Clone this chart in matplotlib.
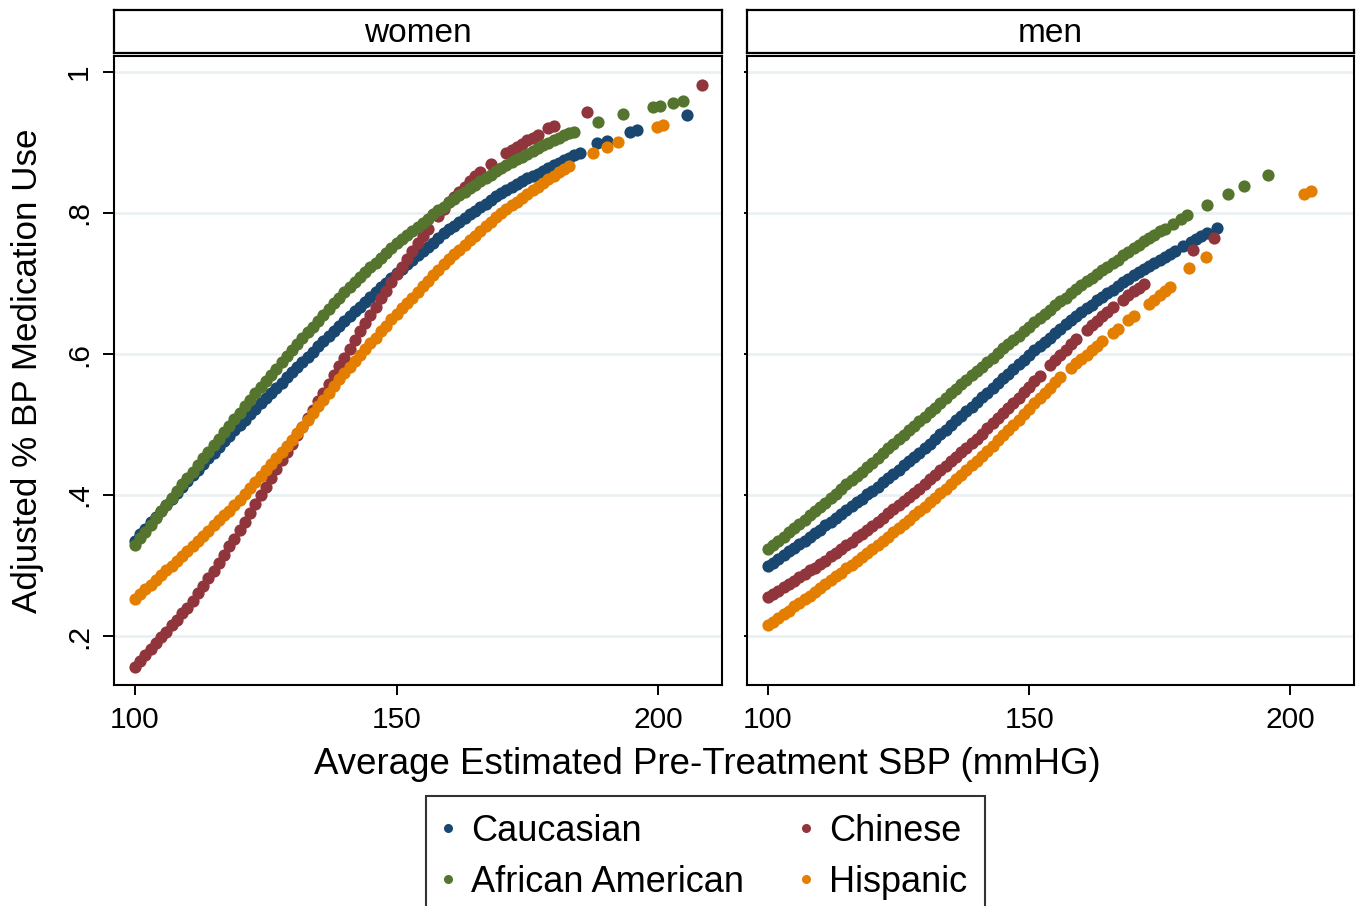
import matplotlib
matplotlib.use('Agg')
import matplotlib.pyplot as plt
from matplotlib.lines import Line2D

plt.rcParams['font.family'] = ['Liberation Sans', 'DejaVu Sans']

groups = ['Caucasian', 'Chinese', 'African American', 'Hispanic']
colors = {'Caucasian': '#1a476f', 'Chinese': '#90353b',
          'African American': '#55752f', 'Hispanic': '#e37e00'}

# ---- women ----
women_cauc_x = list(range(100, 186)) + [188.3, 190.2, 194.6, 195.9, 205.5]
women_cauc_y = [0.335, 0.344, 0.352, 0.361, 0.369, 0.378, 0.386, 0.395, 0.403, 0.412,
                0.420, 0.428, 0.436, 0.444, 0.452, 0.460, 0.468, 0.476, 0.484, 0.492,
                0.500, 0.507, 0.515, 0.522, 0.530, 0.537, 0.544, 0.552, 0.559, 0.567,
                0.574, 0.581, 0.589, 0.596, 0.603, 0.611, 0.618, 0.625, 0.632, 0.640,
                0.647, 0.654, 0.661, 0.667, 0.674, 0.681, 0.688, 0.695, 0.701, 0.708,
                0.715, 0.721, 0.727, 0.734, 0.740, 0.746, 0.752, 0.758, 0.765, 0.771,
                0.777, 0.782, 0.787, 0.793, 0.798, 0.803, 0.808, 0.813, 0.819, 0.824,
                0.829, 0.833, 0.837, 0.841, 0.845, 0.849, 0.852, 0.856, 0.860, 0.864,
                0.868, 0.871, 0.875, 0.878, 0.882, 0.885,
                0.899, 0.902, 0.915, 0.918, 0.939]

women_afam_x = list(range(100, 185)) + [188.5, 193.3, 199.0, 200.4, 202.9, 204.8]
women_afam_y = [0.329, 0.339, 0.348, 0.358, 0.367, 0.377, 0.386, 0.396, 0.405, 0.415,
                0.424, 0.433, 0.443, 0.452, 0.461, 0.471, 0.480, 0.489, 0.498, 0.508,
                0.517, 0.526, 0.535, 0.544, 0.553, 0.562, 0.570, 0.579, 0.588, 0.597,
                0.606, 0.614, 0.623, 0.631, 0.639, 0.647, 0.655, 0.664, 0.672, 0.680,
                0.688, 0.695, 0.702, 0.709, 0.716, 0.723, 0.729, 0.736, 0.743, 0.750,
                0.757, 0.763, 0.769, 0.775, 0.780, 0.786, 0.792, 0.798, 0.804, 0.809,
                0.815, 0.820, 0.825, 0.830, 0.835, 0.840, 0.845, 0.850, 0.854, 0.859,
                0.864, 0.868, 0.872, 0.876, 0.880, 0.884, 0.888, 0.892, 0.896, 0.900,
                0.904, 0.907, 0.910, 0.913, 0.915,
                0.929, 0.940, 0.950, 0.952, 0.956, 0.959]

women_chin_x = list(range(100, 157)) + [158, 159, 160, 161, 162, 163, 164, 165, 166, 168,
                                        171, 172, 173, 174, 175, 176, 177, 179, 180,
                                        186.4, 208.4]
women_chin_y = [0.156, 0.164, 0.173, 0.181, 0.190, 0.198, 0.206, 0.215, 0.223, 0.232,
                0.240, 0.250, 0.261, 0.271, 0.282, 0.292, 0.304, 0.315, 0.327, 0.338,
                0.350, 0.362, 0.375, 0.387, 0.400, 0.412, 0.424, 0.437, 0.449, 0.461,
                0.473, 0.485, 0.497, 0.509, 0.521, 0.533, 0.545, 0.558, 0.570, 0.583,
                0.595, 0.607, 0.620, 0.632, 0.644, 0.656, 0.667, 0.679, 0.690, 0.702,
                0.713, 0.724, 0.735, 0.746, 0.757, 0.768, 0.777,
                0.796, 0.806, 0.815, 0.822, 0.830, 0.837, 0.845, 0.852, 0.858, 0.869,
                0.885, 0.889, 0.894, 0.898, 0.903, 0.907, 0.911, 0.920, 0.924,
                0.943, 0.982]

women_hisp_x = list(range(100, 184)) + [187.6, 190.2, 192.3, 199.8, 201.0]
women_hisp_y = [0.252, 0.259, 0.266, 0.272, 0.279, 0.286, 0.293, 0.300, 0.306, 0.313,
                0.320, 0.327, 0.335, 0.342, 0.349, 0.357, 0.364, 0.371, 0.378, 0.386,
                0.393, 0.401, 0.410, 0.418, 0.427, 0.435, 0.444, 0.452, 0.461, 0.469,
                0.478, 0.488, 0.497, 0.507, 0.516, 0.526, 0.535, 0.545, 0.554, 0.564,
                0.573, 0.581, 0.590, 0.598, 0.607, 0.615, 0.623, 0.632, 0.640, 0.649,
                0.657, 0.665, 0.673, 0.680, 0.688, 0.696, 0.704, 0.712, 0.719, 0.727,
                0.735, 0.742, 0.748, 0.755, 0.761, 0.768, 0.774, 0.781, 0.787, 0.794,
                0.800, 0.805, 0.811, 0.816, 0.821, 0.827, 0.832, 0.837, 0.843, 0.848,
                0.853, 0.858, 0.862, 0.867,
                0.885, 0.894, 0.901, 0.922, 0.925]

# ---- men ----
men_cauc_x = list(range(100, 179)) + [179.5, 181, 182, 183, 184.1, 185.9]
men_cauc_y = [0.299, 0.304, 0.309, 0.315, 0.320, 0.325, 0.330, 0.335, 0.341, 0.346,
              0.351, 0.357, 0.362, 0.368, 0.373, 0.379, 0.384, 0.390, 0.395, 0.401,
              0.406, 0.412, 0.418, 0.424, 0.430, 0.436, 0.442, 0.448, 0.454, 0.460,
              0.466, 0.473, 0.479, 0.486, 0.492, 0.499, 0.506, 0.512, 0.519, 0.525,
              0.532, 0.539, 0.545, 0.552, 0.559, 0.566, 0.572, 0.579, 0.586, 0.592,
              0.599, 0.605, 0.611, 0.617, 0.623, 0.630, 0.636, 0.642, 0.648, 0.654,
              0.660, 0.665, 0.670, 0.676, 0.681, 0.686, 0.691, 0.696, 0.702, 0.707,
              0.712, 0.716, 0.721, 0.725, 0.729, 0.734, 0.738, 0.742, 0.746,
              0.753, 0.759, 0.763, 0.767, 0.772, 0.779]

men_afam_x = list(range(100, 177)) + [177.5, 179, 180.3, 184.1, 188.0, 191.2, 195.8]
men_afam_y = [0.323, 0.329, 0.335, 0.341, 0.347, 0.353, 0.359, 0.365, 0.371, 0.377,
              0.383, 0.389, 0.396, 0.402, 0.408, 0.415, 0.421, 0.427, 0.433, 0.440,
              0.446, 0.453, 0.459, 0.466, 0.472, 0.479, 0.485, 0.492, 0.498, 0.505,
              0.511, 0.518, 0.524, 0.531, 0.537, 0.544, 0.550, 0.557, 0.563, 0.570,
              0.576, 0.582, 0.589, 0.595, 0.601, 0.608, 0.614, 0.620, 0.626, 0.633,
              0.639, 0.645, 0.651, 0.657, 0.663, 0.669, 0.675, 0.680, 0.686, 0.692,
              0.698, 0.703, 0.708, 0.714, 0.719, 0.724, 0.729, 0.734, 0.740, 0.745,
              0.750, 0.755, 0.760, 0.764, 0.769, 0.774, 0.778,
              0.785, 0.791, 0.797, 0.811, 0.827, 0.838, 0.854]

men_chin_x = list(range(100, 153)) + [154, 155, 156, 157, 158, 159, 161, 162, 163, 164,
                                      165, 166, 168, 169, 170, 171, 172, 181.3, 185.3]
men_chin_y = [0.255, 0.260, 0.264, 0.269, 0.274, 0.278, 0.283, 0.288, 0.293, 0.297,
              0.302, 0.307, 0.313, 0.318, 0.324, 0.329, 0.334, 0.340, 0.345, 0.351,
              0.356, 0.362, 0.368, 0.374, 0.380, 0.386, 0.391, 0.397, 0.403, 0.409,
              0.415, 0.422, 0.428, 0.435, 0.441, 0.448, 0.454, 0.461, 0.467, 0.474,
              0.480, 0.487, 0.495, 0.502, 0.509, 0.517, 0.524, 0.531, 0.538, 0.546,
              0.553, 0.561, 0.569,
              0.584, 0.592, 0.599, 0.606, 0.614, 0.621, 0.634, 0.641, 0.647, 0.654,
              0.660, 0.666, 0.677, 0.683, 0.689, 0.694, 0.699, 0.748, 0.765]

men_hisp_x = list(range(100, 152)) + [152, 153, 154, 155, 156, 158, 159, 160, 161, 162,
                                      163, 164, 166, 167, 169, 170, 173, 174, 175, 176,
                                      177, 180.7, 183.9, 202.7, 204.0]
men_hisp_y = [0.215, 0.220, 0.226, 0.231, 0.236, 0.242, 0.247, 0.252, 0.257, 0.263,
              0.268, 0.274, 0.279, 0.285, 0.290, 0.296, 0.301, 0.307, 0.312, 0.318,
              0.323, 0.329, 0.335, 0.341, 0.347, 0.353, 0.359, 0.365, 0.371, 0.377,
              0.383, 0.390, 0.396, 0.403, 0.409, 0.416, 0.422, 0.429, 0.435, 0.442,
              0.448, 0.455, 0.463, 0.470, 0.478, 0.485, 0.492, 0.500, 0.507, 0.515,
              0.522, 0.530,
              0.537, 0.545, 0.552, 0.560, 0.567, 0.580, 0.587, 0.593, 0.599, 0.605,
              0.612, 0.618, 0.630, 0.636, 0.648, 0.654, 0.671, 0.677, 0.683, 0.689,
              0.695, 0.722, 0.738, 0.827, 0.831]

women = {'Caucasian': (women_cauc_x, women_cauc_y), 'Chinese': (women_chin_x, women_chin_y),
         'African American': (women_afam_x, women_afam_y), 'Hispanic': (women_hisp_x, women_hisp_y)}
men = {'Caucasian': (men_cauc_x, men_cauc_y), 'Chinese': (men_chin_x, men_chin_y),
       'African American': (men_afam_x, men_afam_y), 'Hispanic': (men_hisp_x, men_hisp_y)}

xticks = [100, 150, 200]
yticks = [0.2, 0.4, 0.6, 0.8, 1.0]
ytick_labels = ['.2', '.4', '.6', '.8', '1']

W, H = 1358, 906
fig = plt.figure(figsize=(W / 100, H / 100), dpi=100)
fig.patch.set_facecolor('white')


def box(x0, y0, x1, y1):
    return fig.add_axes([x0 / W, 1 - y1 / H, (x1 - x0) / W, (y1 - y0) / H])


panels = [('women', 114, 722, women), ('men', 747, 1354, men)]
for i, (name, x0, x1, data) in enumerate(panels):
    ax = box(x0, 56, x1, 685)
    for g in groups:
        xs, ys = data[g]
        ax.plot(xs, ys, 'o', ms=8.8, mew=0, color=colors[g], linestyle='none', zorder=3)
    for v in yticks:
        ax.axhline(v, color='#e8f0f1', lw=1.8, zorder=1)
    ax.set_xlim(95.98, 212.2)
    ax.set_ylim(0.1305, 1.0227)
    ax.set_xticks(xticks)
    ax.set_xticklabels([str(t) for t in xticks])
    ax.set_yticks(yticks)
    for s in ax.spines.values():
        s.set_linewidth(1.5)
        s.set_color('black')
    ax.tick_params(axis='x', length=7, width=1.4, labelsize=21.5, pad=8)
    if i == 0:
        ax.set_yticklabels(ytick_labels, rotation=90, va='center')
        ax.tick_params(axis='y', length=8, width=1.4, labelsize=21.5, pad=7)
    else:
        ax.tick_params(axis='y', length=2, width=1.4, labelleft=False)

    strip = box(x0, 10, x1, 53)
    strip.set_xticks([])
    strip.set_yticks([])
    for s in strip.spines.values():
        s.set_linewidth(1.6)
    strip.text(0.5, 0.46, name, ha='center', va='center', fontsize=24, transform=strip.transAxes)

fig.text(707 / W, 1 - 765 / H, 'Average Estimated Pre-Treatment SBP (mmHG)',
         ha='center', va='center', fontsize=26.4)
fig.text(28 / W, 1 - 371 / H, 'Adjusted % BP Medication Use',
         ha='center', va='center', rotation=90, fontsize=25.2)

legend_order = ['Caucasian', 'African American', 'Chinese', 'Hispanic']
handles = [Line2D([], [], marker='o', ms=6.5, mew=0, linestyle='none', color=colors[g])
           for g in legend_order]
leg = fig.legend(handles, legend_order, ncol=2, loc='upper left',
                 bbox_to_anchor=(426 / W, 1 - 796 / H), fontsize=26, frameon=True,
                 fancybox=False, borderaxespad=0, handlelength=0.2, handletextpad=0.55,
                 columnspacing=1.6, labelspacing=0.43, borderpad=0.5)
leg.get_frame().set_edgecolor('black')
leg.get_frame().set_linewidth(1.5)

fig.savefig('out.png', dpi=100)
